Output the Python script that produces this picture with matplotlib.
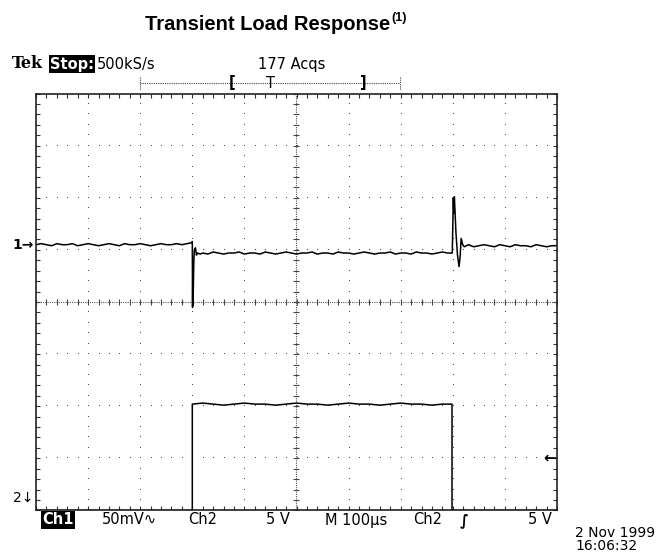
import numpy as np
import matplotlib
matplotlib.use("Agg")
import matplotlib.pyplot as plt

# ==== scope settings ====
ch1_scale = 50.0     # mV/div
ch2_scale = 5.0      # V/div
time_scale = 100.0   # us/div
ch1_offset = 1.1     # div, Ch1 ground marker
ch2_offset = -4.0    # div, Ch2 ground marker
trig_level = 5.0     # V on Ch2

# ==== Ch1: output voltage, AC coupled (mV), time in us ====
ch1_t = [-500, -490, -480, -470, -460, -450, -440, -430, -420, -410,
         -400, -390, -380, -370, -360, -350, -340, -330, -320, -310,
         -300, -290, -280, -270, -260, -250, -240, -230, -220, -210,
         -201, -200, -199.5, -199, -198.5, -198, -197, -196, -194, -192,
         -190, -185, -180, -170, -160, -150, -140, -130, -120, -110,
         -100, -90, -80, -70, -60, -50, -40, -30, -20, -10,
         0, 10, 20, 30, 40, 50, 60, 70, 80, 90,
         100, 110, 120, 130, 140, 150, 160, 170, 180, 190,
         200, 210, 220, 230, 240, 250, 260, 270, 280, 290,
         299, 301, 302, 303, 304, 306, 309, 312, 314, 316,
         319, 322, 326, 330, 340, 350, 360, 370, 380, 390,
         400, 410, 420, 430, 440, 450, 460, 470, 480, 490, 500]
ch1_v = [0, 1, 0, -1, 1, 0, 0, 1, -1, 0,
         1, 0, -1, 0, 1, 0, -1, 1, 0, 0,
         1, 0, -1, 0, 1, 0, 0, 1, 0, 1,
         2, 3, -60, -20, -58, -40, -15, -5, -3, -10,
         -8, -9, -8, -9, -7, -8, -9, -8, -8, -7,
         -9, -8, -8, -9, -7, -8, -9, -8, -7, -8,
         -9, -8, -8, -7, -9, -8, -8, -9, -7, -8,
         -8, -9, -8, -7, -8, -9, -8, -8, -7, -9,
         -8, -8, -9, -7, -8, -8, -9, -8, -7, -8,
         -8, 45, 30, 46, 35, 12, -10, -21, -12, 6,
         0, -2, -1, 0, -2, -1, 0, -1, -2, 0,
         -1, -2, 0, -1, -1, -2, 0, -1, -2, -1, -1]

# ==== Ch2: load step (V) ====
ch2_t = [-500, -200, -200, -180, -160, -140, -120, -100, -80, -60,
         -40, -20, 0, 20, 40, 60, 80, 100, 120, 140,
         160, 180, 200, 220, 240, 260, 280, 298.5, 298.5, 500]
ch2_v = [0, 0, 10.2, 10.3, 10.2, 10.1, 10.2, 10.3, 10.2, 10.2,
         10.1, 10.2, 10.3, 10.2, 10.2, 10.1, 10.2, 10.3, 10.2, 10.2,
         10.1, 10.2, 10.3, 10.2, 10.2, 10.1, 10.2, 10.2, 0, 0]

W, H = 668, 554
fig = plt.figure(figsize=(W / 100, H / 100), dpi=100)
fig.patch.set_facecolor("white")

# scope screen: 10 x 8 divisions
left, right, top, bottom = 36, 557, 93.6, 510.4
ax = fig.add_axes([left / W, 1 - bottom / H, (right - left) / W, (bottom - top) / H])
ax.set_xlim(-5, 5)
ax.set_ylim(-4, 4)

minor_x = np.arange(-5, 5.001, 0.2)
minor_y = np.arange(-4, 4.001, 0.2)
ax.set_xticks(minor_x)
ax.set_yticks(minor_y)
ax.tick_params(direction="in", length=3, width=0.8, color="#333333",
               top=True, right=True, labelbottom=False, labelleft=False)
for s in ax.spines.values():
    s.set_linewidth(1.2)
    s.set_color("#222222")

# graticule dots
for gx in range(-4, 5):
    if gx == 0:
        continue
    ax.plot(np.full_like(minor_y, gx), minor_y, ",", color="#444444")
for gy in range(-3, 4):
    if gy == 0:
        continue
    ax.plot(minor_x, np.full_like(minor_x, gy), ",", color="#444444")

# centre crosshair
ax.plot([-5, 5], [0, 0], color="#555555", lw=0.8, ls=(0, (1, 1)))
ax.plot([0, 0], [-4, 4], color="#555555", lw=0.8, ls=(0, (1, 1)))
ax.plot(minor_x, np.zeros_like(minor_x), "|", color="#444444", ms=5, mew=0.8)
ax.plot(np.zeros_like(minor_y), minor_y, "_", color="#444444", ms=5, mew=0.8)

# traces
t1 = np.array(ch1_t) / time_scale
y1 = np.array(ch1_v) / ch1_scale + ch1_offset
t2 = np.array(ch2_t) / time_scale
y2 = np.array(ch2_v) / ch2_scale + ch2_offset
ax.plot(t1, y1, color="black", lw=1.1)
ax.plot(t2, y2, color="black", lw=1.1)

# channel markers and trigger level
ax.annotate("1→", xy=(-0.005, ch1_offset), xycoords=("axes fraction", "data"),
            ha="right", va="center", fontsize=10, fontweight="bold",
            annotation_clip=False)
ax.annotate("2↓", xy=(-0.005, ch2_offset + 0.1), xycoords=("axes fraction", "data"),
            ha="right", va="bottom", fontsize=10, annotation_clip=False)
ax.text(4.98, trig_level / ch2_scale + ch2_offset, "←", ha="right", va="center",
        fontsize=11, fontweight="bold")

# overlay in pixel coordinates for the text around the screen
ov = fig.add_axes([0, 0, 1, 1])
ov.set_xlim(0, W)
ov.set_ylim(H, 0)
ov.axis("off")
ov.patch.set_alpha(0)

title = ov.text(268, 24, "Transient Load Response", ha="center", va="center",
                fontsize=14.5, fontweight="bold", family="Liberation Sans")
ov.annotate("(1)", xy=(1, 1), xycoords=title, xytext=(0.5, 2),
            textcoords="offset points", ha="left", va="top",
            fontsize=9, fontweight="bold", family="Liberation Sans")

scope_font = dict(family="DejaVu Sans", fontsize=10.5, va="center")
ov.text(12, 64, "Tek", family="DejaVu Serif", fontsize=11.5, fontweight="bold", va="center")
ov.text(50, 64, "Stop:", color="white", fontweight="bold",
        bbox=dict(facecolor="black", edgecolor="none", pad=1), **scope_font)
ov.text(97, 64, "500kS/s", **scope_font)
ov.text(258, 64, "177 Acqs", **scope_font)

# record bar
ov.plot([140, 400], [83, 83], color="#444444", lw=0.8, ls=(0, (1, 1)))
ov.plot([140, 140], [77, 90], color="#444444", lw=0.8, ls=(0, (1, 1)))
ov.plot([400, 400], [77, 90], color="#444444", lw=0.8, ls=(0, (1, 1)))
ov.text(232, 83, "[", ha="center", fontweight="bold", **scope_font)
ov.text(270, 83, "T", ha="center", **scope_font)
ov.text(363, 83, "]", ha="center", fontweight="bold", **scope_font)

# bottom readout
ov.text(42, 520, "Ch1", color="white", fontweight="bold",
        bbox=dict(facecolor="black", edgecolor="none", pad=1), **scope_font)
ov.text(102, 520, "50mV∿", **scope_font)
ov.text(188, 520, "Ch2", **scope_font)
ov.text(290, 520, "5 V", ha="right", **scope_font)
ov.text(325, 520, "M 100µs", **scope_font)
ov.text(413, 520, "Ch2", **scope_font)
ov.text(460, 520, "∫", fontweight="bold", **scope_font)
ov.text(552, 520, "5 V", ha="right", **scope_font)
ov.text(575, 533, "2 Nov 1999", family="DejaVu Sans", fontsize=10, va="center")
ov.text(575, 546, "16:06:32", family="DejaVu Sans", fontsize=10, va="center")

fig.savefig("out.png", dpi=100)
